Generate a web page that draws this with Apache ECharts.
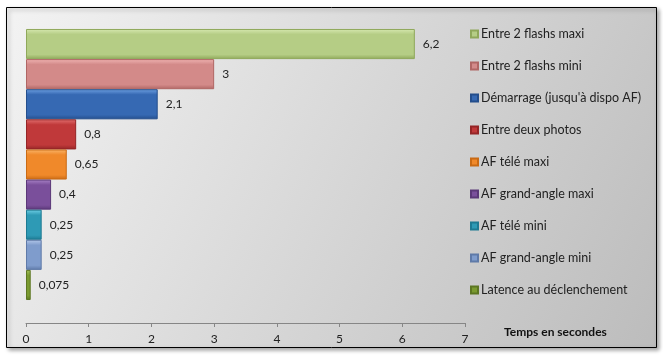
<!DOCTYPE html>
<html>
<head>
<meta charset="utf-8">
<script src="https://cdn.jsdelivr.net/npm/echarts@6/dist/echarts.min.js"></script>
<style>
html,body{margin:0;padding:0;background:#fff;}
#c{width:663px;height:357px;}
</style>
</head>
<body>
<div id="c"></div>
<script>
// Series names, top to bottom
const seriesNames = ['Entre 2 flashs maxi','Entre 2 flashs mini','Démarrage (jusqu\'à dispo AF)','Entre deux photos','AF télé maxi','AF grand-angle maxi','AF télé mini','AF grand-angle mini','Latence au déclenchement'];
const seriesValues = [6.2, 3, 2.1, 0.8, 0.65, 0.4, 0.25, 0.25, 0.075];
const xTicks = [0,1,2,3,4,5,6,7];
const baseColors = ['#b5cd85','#d38a89','#3669b3','#c0393a','#f0892a','#7a4f9b','#2e9ab5','#7f9ccc','#7a9a30'];
const lightColors = ['#d6e8b0','#f0b4b2','#6ea0e2','#e2706f','#fab66a','#a983c7','#6fd0e6','#b4c8ea','#a3c25a'];
const darkColors = ['#8fa85a','#b06664','#244e8c','#942526','#c96a14','#5b3878','#1d7a92','#5f7aa8','#5c7622'];

const FONT = 'Lato';
const chart = echarts.init(document.getElementById('c'));
const series = seriesNames.map((n,i)=>({
  name:n, type:'bar', data:[seriesValues[i]],
  barGap:'0%', barCategoryGap:'14.5%',
  itemStyle:{
    color:new echarts.graphic.LinearGradient(0,0,0,1,[
      {offset:0,color:lightColors[i]},
      {offset:0.18,color:baseColors[i]},
      {offset:0.85,color:baseColors[i]},
      {offset:1,color:darkColors[i]}
    ]),
    borderColor:darkColors[i], borderWidth:1
  },
  label:{show:true, position:'right', distance:8, color:'#222', fontFamily:FONT, fontSize:12,
    formatter:p=>String(p.value).replace('.',',')}
}));
chart.setOption({
  animation:false,
  textStyle:{fontFamily:FONT},
  graphic:[{
    type:'rect', z:-10, silent:true,
    shape:{x:6.5,y:7.5,width:650,height:340},
    style:{
      fill:new echarts.graphic.LinearGradient(0,0,1,1,[{offset:0,color:'#f3f3f3'},{offset:1,color:'#bcbcbc'}]),
      stroke:'#000', lineWidth:1,
      shadowBlur:4, shadowOffsetX:2, shadowOffsetY:2, shadowColor:'rgba(0,0,0,0.35)'
    }
  }],
  title:{text:'Temps en secondes', left:499, top:321,
    textStyle:{fontFamily:FONT, fontSize:12, fontWeight:'bold', color:'#111'}},
  legend:{orient:'vertical', left:465, top:22, icon:'rect', itemWidth:7, itemHeight:7, itemGap:18,
    data:seriesNames.slice(),
    textStyle:{fontFamily:FONT, fontSize:12.5, color:'#222', lineHeight:14, padding:[0,0,0,-2]}},
  grid:{left:26, right:198, top:6, bottom:34},
  xAxis:{type:'value', min:0, max:7, interval:1,
    axisLine:{show:true, lineStyle:{color:'#868686'}},
    axisTick:{show:true, length:4, lineStyle:{color:'#868686'}},
    axisLabel:{color:'#222', fontFamily:FONT, fontSize:12, margin:10},
    splitLine:{show:false}},
  yAxis:{type:'category', data:[''], axisLine:{show:false}, axisTick:{show:false}, axisLabel:{show:false}},
  series:series
});
</script>
</body>
</html>
